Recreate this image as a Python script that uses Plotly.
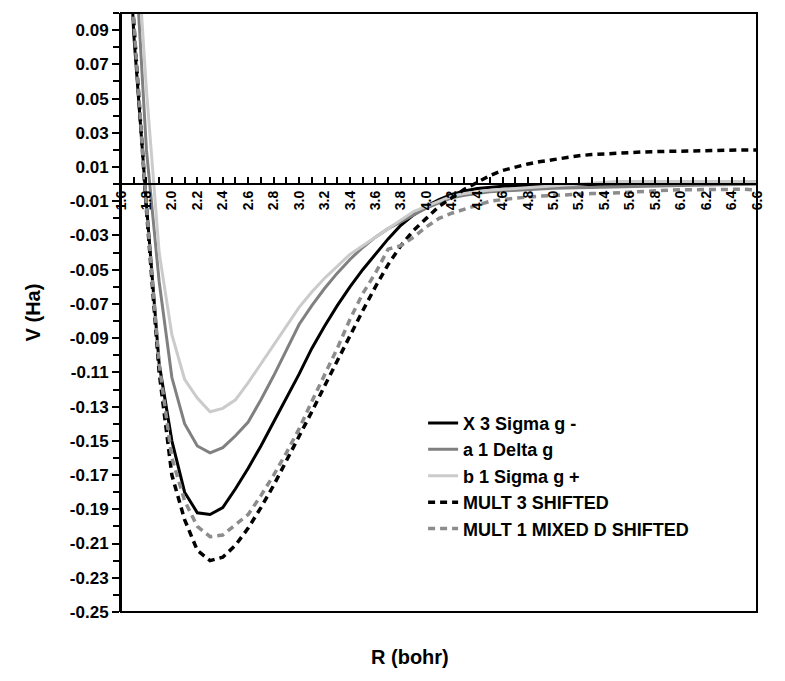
import plotly.graph_objects as go

R = [1.6, 1.7, 1.8, 1.9, 2.0, 2.1, 2.2, 2.3, 2.4, 2.5, 2.6, 2.7, 2.8, 2.9, 3.0,
     3.1, 3.2, 3.3, 3.4, 3.5, 3.6, 3.7, 3.8, 3.9, 4.0, 4.1, 4.2, 4.3, 4.4, 4.5,
     4.6, 4.7, 4.8, 4.9, 5.0, 5.1, 5.2, 5.3, 5.4, 5.5, 5.6, 5.7, 5.8, 5.9, 6.0,
     6.1, 6.2, 6.3, 6.4, 6.5, 6.6]

x3_sigma_g_minus = [0.25, 0.088, -0.012, -0.105, -0.150, -0.180, -0.192, -0.193, -0.189, -0.178,
                    -0.166, -0.153, -0.139, -0.125, -0.111, -0.096, -0.083, -0.071, -0.060, -0.050,
                    -0.041, -0.032, -0.024, -0.018, -0.013, -0.009, -0.006, -0.004, -0.0025, -0.0018,
                    -0.0013, -0.0011, -0.0009, -0.0008, -0.0006, -0.0004, -0.0003, -0.0002, -0.0001, 0.0,
                    0.0001, 0.0002, 0.0003, 0.0004, 0.0005, 0.0005, 0.0006, 0.0006, 0.0007, 0.0007, 0.0007]

a1_delta_g = [0.35, 0.15, 0.02, -0.057, -0.113, -0.140, -0.153, -0.157, -0.154, -0.147,
              -0.139, -0.126, -0.112, -0.097, -0.082, -0.071, -0.061, -0.052, -0.044, -0.037,
              -0.031, -0.026, -0.022, -0.018, -0.014, -0.011, -0.008, -0.0065, -0.0055, -0.0045,
              -0.004, -0.0035, -0.003, -0.0027, -0.0024, -0.0022, -0.002, -0.0018, -0.0016, -0.0014,
              -0.0012, -0.001, -0.0009, -0.0008, -0.0007, -0.0006, -0.0005, -0.0004, -0.0003, -0.0002, -0.0001]

b1_sigma_g_plus = [0.40, 0.17, 0.055, -0.040, -0.088, -0.114, -0.125, -0.133, -0.131, -0.126,
                   -0.116, -0.105, -0.094, -0.083, -0.072, -0.063, -0.055, -0.048, -0.041, -0.036,
                   -0.031, -0.026, -0.021, -0.016, -0.013, -0.010, -0.007, -0.0055, -0.0045, -0.0035,
                   -0.003, -0.0025, -0.002, -0.0015, -0.001, -0.0005, 0.0, 0.0005, 0.001, 0.0015,
                   0.0015, 0.0015, 0.0015, 0.0015, 0.0015, 0.0015, 0.0015, 0.0015, 0.0015, 0.0015, 0.0015]

mult3_shifted = [0.30, 0.095, -0.015, -0.110, -0.170, -0.196, -0.214, -0.220, -0.218, -0.211,
                 -0.201, -0.189, -0.176, -0.162, -0.148, -0.133, -0.118, -0.103, -0.088, -0.074,
                 -0.060, -0.047, -0.036, -0.027, -0.020, -0.013, -0.008, -0.003, 0.001, 0.005,
                 0.008, 0.010, 0.0118, 0.0132, 0.0145, 0.0157, 0.0166, 0.0173, 0.0178, 0.0182,
                 0.0185, 0.0188, 0.019, 0.0192, 0.0194, 0.0196, 0.0197, 0.0198, 0.0199, 0.02, 0.02]

mult1_mixed_d_shifted = [0.28, 0.095, -0.013, -0.105, -0.160, -0.185, -0.200, -0.206, -0.205, -0.199,
                         -0.193, -0.182, -0.170, -0.157, -0.143, -0.127, -0.112, -0.096, -0.079, -0.064,
                         -0.052, -0.038, -0.036, -0.031, -0.025, -0.020, -0.017, -0.0145, -0.012, -0.010,
                         -0.009, -0.008, -0.0075, -0.007, -0.0065, -0.006, -0.006, -0.0055, -0.0055, -0.005,
                         -0.0045, -0.004, -0.0038, -0.0035, -0.0033, -0.0032, -0.003, -0.003, -0.003, -0.003, -0.0035]

series_names = ["X 3 Sigma g -", "a 1 Delta g", "b 1 Sigma g +",
                "MULT 3 SHIFTED", "MULT 1 MIXED D SHIFTED"]

x_tick_vals = [1.6, 1.8, 2.0, 2.2, 2.4, 2.6, 2.8, 3.0, 3.2, 3.4, 3.6, 3.8, 4.0, 4.2,
               4.4, 4.6, 4.8, 5.0, 5.2, 5.4, 5.6, 5.8, 6.0, 6.2, 6.4, 6.6]
x_tick_text = ["1.6", "1.8", "2.0", "2.2", "2.4", "2.6", "2.8", "3.0", "3.2", "3.4", "3.6",
               "3.8", "4.0", "4.2", "4.4", "4.6", "4.8", "5.0", "5.2", "5.4", "5.6", "5.8",
               "6.0", "6.2", "6.4", "6.6"]
y_tick_vals = [0.09, 0.07, 0.05, 0.03, 0.01, -0.01, -0.03, -0.05, -0.07, -0.09, -0.11,
               -0.13, -0.15, -0.17, -0.19, -0.21, -0.23, -0.25]
y_tick_text = ["0.09", "0.07", "0.05", "0.03", "0.01", "-0.01", "-0.03", "-0.05", "-0.07",
               "-0.09", "-0.11", "-0.13", "-0.15", "-0.17", "-0.19", "-0.21", "-0.23", "-0.25"]

FONT = "Liberation Sans, Arial, sans-serif"

series = [x3_sigma_g_minus, a1_delta_g, b1_sigma_g_plus, mult3_shifted, mult1_mixed_d_shifted]
styles = [
    dict(color="#000000", width=3, dash="solid"),
    dict(color="#808080", width=3, dash="solid"),
    dict(color="#cbcbcb", width=3, dash="solid"),
    dict(color="#000000", width=3.5, dash="7px,5px"),
    dict(color="#8c8c8c", width=3.5, dash="7px,5px"),
]

fig = go.Figure()
for name, vals, st in zip(series_names, series, styles):
    fig.add_trace(go.Scatter(x=R, y=vals, mode="lines", name=name, line=st))

Y0 = -0.25
Y1 = 0.10

fig.update_layout(
    width=777, height=673,
    margin=dict(l=113, r=28, t=5, b=69),
    paper_bgcolor="white", plot_bgcolor="white",
    font=dict(family=FONT, color="#000000"),
    showlegend=True,
    legend=dict(
        x=0.475, y=0.346, xanchor="left", yanchor="top",
        bgcolor="rgba(0,0,0,0)",
        font=dict(family=FONT, size=18, weight="bold", color="#000000"),
        tracegroupgap=0, itemwidth=30,
    ),
    xaxis=dict(
        range=[1.6, 6.6],
        anchor="free", position=(0 - Y0) / (Y1 - Y0),
        showline=True, linecolor="#000000", linewidth=2,
        ticks="inside", ticklen=6, tickwidth=2, tickcolor="#000000",
        tickmode="array", tickvals=x_tick_vals, ticktext=x_tick_text,
        tickangle=-90,
        tickfont=dict(family=FONT, size=14, weight="bold", color="#000000"),
        minor=dict(ticks="inside", ticklen=6, tickwidth=2, tickcolor="#000000",
                   dtick=0.1, tick0=0.0, showgrid=False),
        showgrid=False, zeroline=False,
    ),
    yaxis=dict(
        range=[Y0, Y1],
        showline=True, linecolor="#000000", linewidth=2,
        ticks="outside", ticklen=7, tickwidth=2, tickcolor="#000000",
        tickmode="array", tickvals=y_tick_vals, ticktext=y_tick_text,
        tickfont=dict(family=FONT, size=17, weight="bold", color="#000000"),
        minor=dict(ticks="outside", ticklen=6, tickwidth=2, tickcolor="#000000",
                   dtick=0.02, tick0=0.0, showgrid=False),
        showgrid=False, zeroline=False,
        title=dict(text="V (Ha)", standoff=24,
                   font=dict(family=FONT, size=20, weight="bold", color="#000000")),
    ),
    shapes=[dict(type="rect", xref="paper", yref="paper", x0=0, y0=0, x1=1, y1=1,
                 line=dict(color="#000000", width=2), layer="above")],
    annotations=[dict(text="R (bohr)", xref="paper", yref="paper", x=0.455, y=-0.075,
                      xanchor="center", yanchor="middle", showarrow=False,
                      font=dict(family=FONT, size=20, weight="bold", color="#000000"))],
)

fig.write_html("out.html")
